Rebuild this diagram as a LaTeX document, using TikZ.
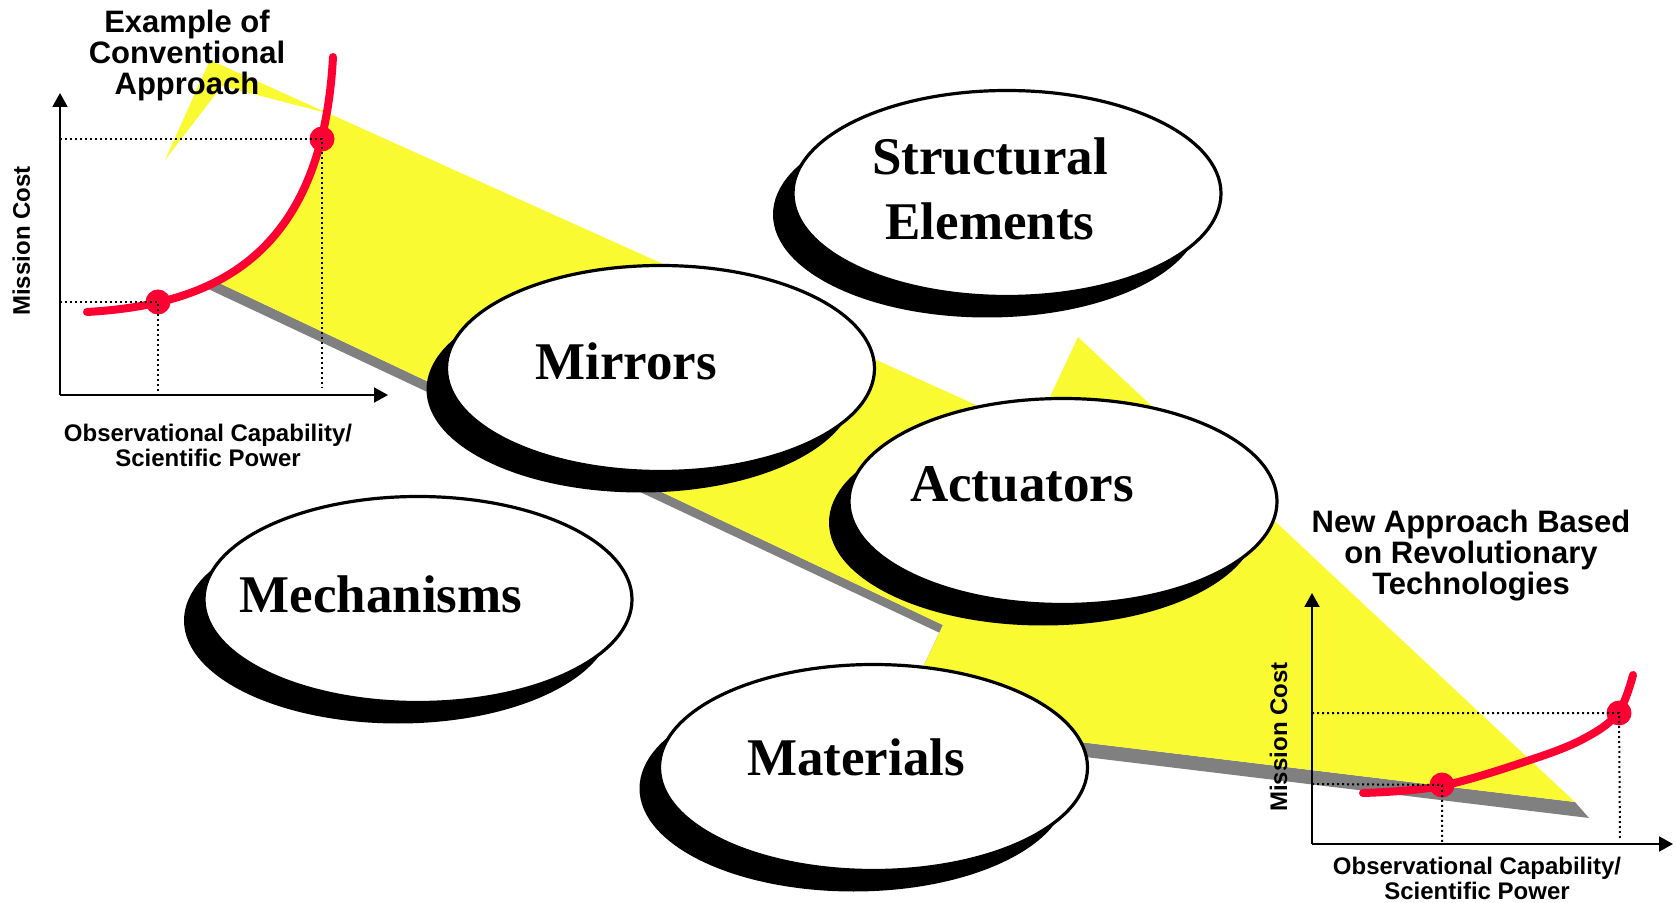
\documentclass[tikz,border=0pt]{standalone}
\usepackage{fontspec}
\setmainfont{Liberation Serif}
\setsansfont{Liberation Sans}
\usetikzlibrary{arrows.meta,shapes.geometric,shadows}
\definecolor{bandyellow}{RGB}{250,250,50}
\definecolor{curvered}{RGB}{255,0,51}
\definecolor{bandshadow}{RGB}{128,128,128}

\begin{document}
\begin{tikzpicture}[x=0.5pt,y=-0.5pt,
    techbox/.style={ellipse,draw=black,line width=1.6pt,fill=white,
      minimum width=214pt,minimum height=103pt,inner sep=0pt,
      drop shadow={shadow xshift=-10pt,shadow yshift=-10.5pt,fill=black,opacity=1}},
    techlabel/.style={font=\fontsize{26.5}{32.5}\selectfont\bfseries,align=center,inner sep=0pt},
    axis/.style={line width=1pt,-{Triangle[length=7pt,width=7.5pt]}},
    guide/.style={line width=1pt,dash pattern=on 1pt off 1.5pt},
    costcurve/.style={curvered,line width=4pt,line cap=round},
    costdot/.style={circle,fill=curvered,minimum size=12.5pt,inner sep=0pt},
    charttitle/.style={font=\sffamily\bfseries\fontsize{15.5}{15.5}\selectfont,align=center,inner sep=0pt},
    axislabel/.style={font=\sffamily\bfseries\fontsize{12}{12.5}\selectfont,align=center,inner sep=0pt}]
  \useasboundingbox (0,0) rectangle (1677,903);

  % zigzag band
  \coordinate (tip) at (210,60);
  \coordinate (kneeTop) at (1034,431);
  \coordinate (stepTip) at (1078,337);
  \coordinate (arrowTip) at (1575,802);
  \coordinate (kneeLow) at (898,720);
  \coordinate (kneeMid) at (943,625);
  \coordinate (bandStart) at (215,281);
  \coordinate (curveTop) at (327,113);
  \coordinate (notch) at (222,86);
  \coordinate (sliver) at (165,160);
  \fill[bandshadow] (bandStart) -- (kneeMid) -- (kneeLow) -- (arrowTip)
    -- ++(14,16) -- ([shift={(14,16)}]kneeLow) -- ([shift={(14,16)}]kneeMid) -- (204,287) -- cycle;
  \fill[bandyellow] (tip) -- (kneeTop) -- (stepTip) -- (arrowTip) -- (kneeLow) -- (kneeMid)
    -- (bandStart) -- (223,278) -- (252,258) -- (277,232) -- (298,200) -- (315,161) -- (curveTop)
    -- (notch) -- (sliver) -- cycle;

  % conventional approach
  \coordinate (oA) at (60,395);
  \coordinate (yA) at (60,93);
  \coordinate (xA) at (388,395);
  \draw[costcurve] (87,312) .. controls (210,305) and (322,260) .. (333,57);
  \node[costdot] (lowA) at (158,302) {};
  \node[costdot] (highA) at (322,139) {};
  \draw[guide] (60,302) -- (lowA.center) -- (158,393);
  \draw[guide] (60,139) -- (highA.center) -- (322,388);
  \draw[axis] (oA) -- (yA);
  \draw[axis] (oA) -- (xA);
  \node[charttitle,anchor=base] (titleA) at (187,95) {Example of\\Conventional\\Approach};
  \node[axislabel,rotate=90,anchor=base] (costA) at (30,241) {Mission Cost};
  \node[axislabel,anchor=base] (powerA) at (208,467) {Observational Capability/\\Scientific Power};

  % technologies
  \node[techbox] (structural) at (1007,193.5) {};
  \node[techbox] (mirrors) at (660.5,368.5) {};
  \node[techbox] (actuators) at (1063,501.5) {};
  \node[techbox] (mechanisms) at (418,599.5) {};
  \node[techbox] (materials) at (873.5,767.5) {};
  \node[techlabel,anchor=base] at (990,240) {Structural\\Elements};
  \node[techlabel,anchor=base] at (626,380) {Mirrors};
  \node[techlabel,anchor=base] at (1022,502) {Actuators};
  \node[techlabel,anchor=base] at (381,612) {Mechanisms};
  \node[techlabel,anchor=base] at (856,775) {Materials};

  % new approach
  \coordinate (oB) at (1312,844);
  \coordinate (yB) at (1312,593);
  \coordinate (xB) at (1673,844);
  \draw[costcurve] plot[smooth,tension=0.6] coordinates
    {(1363,793) (1441,786) (1533,759) (1585,738) (1618,713) (1633,675)};
  \node[costdot] (lowB) at (1442,785) {};
  \node[costdot] (highB) at (1619,713) {};
  \draw[guide] (1312,784) -- (lowB.center) -- (1442,844);
  \draw[guide] (1312,713) -- (highB.center) -- (1620,840);
  \draw[axis] (oB) -- (yB);
  \draw[axis] (oB) -- (xB);
  \node[charttitle,anchor=base] (titleB) at (1471,595) {New Approach Based\\on Revolutionary\\Technologies};
  \node[axislabel,rotate=90,anchor=base] (costB) at (1287,737) {Mission Cost};
  \node[axislabel,anchor=base] (powerB) at (1477,899) {Observational Capability/\\Scientific Power};
\end{tikzpicture}
\end{document}
